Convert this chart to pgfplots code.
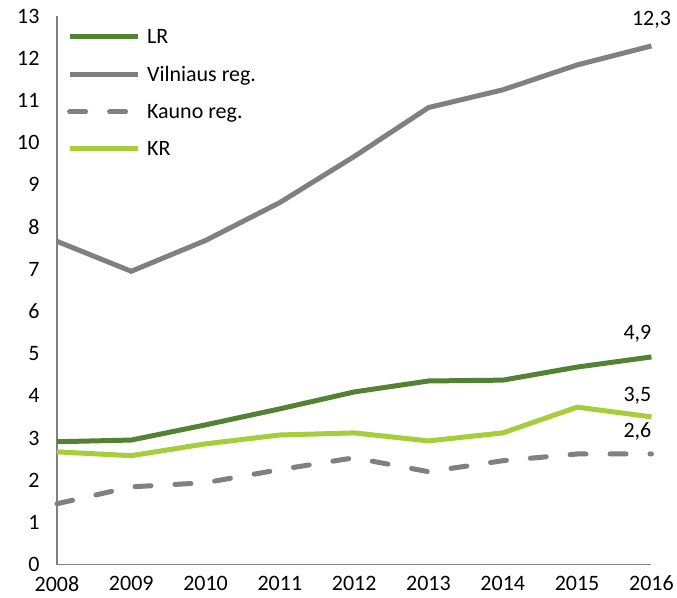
\documentclass[border=0pt]{standalone}
\usepackage{pgfplots}
\pgfplotsset{compat=1.18}
\usepackage{fontspec}
\setmainfont{Carlito}
\definecolor{lrgreen}{HTML}{548235}
\definecolor{krgreen}{HTML}{A8CD3A}
\definecolor{vgray}{HTML}{808080}
\begin{document}
\begin{tikzpicture}
\begin{axis}[
  scale only axis,
  width=595pt, height=549pt,
  xmin=2008, xmax=2016, ymin=0, ymax=13,
  xtick={2008,...,2016}, ytick={0,...,13},
  xticklabel style={/pgf/number format/1000 sep={}},
  /pgf/number format/assume math mode=true,
  tick label style={font=\fontsize{22}{24}\selectfont},
  axis x line*=bottom, axis y line*=left,
  axis line style={vgray, line width=1.2pt, -},
  major tick length=0pt,
  xticklabel style={yshift=-8pt},
  yticklabel style={xshift=-14pt},
  legend style={at={(0.0168,0.976)}, anchor=north west, draw=none, fill=none,
    font=\fontsize{22}{24}\selectfont, row sep=23pt, inner sep=0pt,
    legend cell align=left, nodes={inner sep=0pt, text depth=0pt}},
  legend image code/.code={\draw[#1] (0pt,0pt) -- (68pt,0pt);},
  clip=false,
]
\addplot[lrgreen, line width=5pt] coordinates {
(2008,2.91) (2009,2.95) (2010,3.31) (2011,3.69) (2012,4.09) (2013,4.35) (2014,4.37) (2015,4.68) (2016,4.92)};
\addlegendentry{\hspace{7pt}LR}
\addplot[vgray, line width=5pt] coordinates {
(2008,7.66) (2009,6.95) (2010,7.68) (2011,8.58) (2012,9.67) (2013,10.83) (2014,11.25) (2015,11.84) (2016,12.29)};
\addlegendentry{\hspace{7pt}Vilniaus reg.}
\addplot[vgray, line width=5pt, line cap=round, dash pattern=on 16pt off 24pt] coordinates {
(2008,1.44) (2009,1.84) (2010,1.94) (2011,2.25) (2012,2.53) (2013,2.2) (2014,2.46) (2015,2.62) (2016,2.62)};
\addlegendentry{\hspace{7pt}Kauno reg.}
\addplot[krgreen, line width=5pt] coordinates {
(2008,2.67) (2009,2.58) (2010,2.86) (2011,3.07) (2012,3.12) (2013,2.93) (2014,3.12) (2015,3.73) (2016,3.5)};
\addlegendentry{\hspace{7pt}KR}
\node[anchor=south, font=\fontsize{22}{24}\selectfont] at (axis cs:2016,12.29) [yshift=14pt]{12,3};
\node[anchor=south, font=\fontsize{22}{24}\selectfont] at (axis cs:2016,4.92) [yshift=11pt, xshift=-14pt]{4,9};
\node[anchor=south, font=\fontsize{22}{24}\selectfont] at (axis cs:2016,3.5) [yshift=9pt, xshift=-14pt]{3,5};
\node[anchor=south, font=\fontsize{22}{24}\selectfont] at (axis cs:2016,2.62) [yshift=10pt, xshift=-14pt]{2,6};
\end{axis}
\useasboundingbox (-57pt,-33pt) rectangle (620pt,565pt);
\end{tikzpicture}
\end{document}
